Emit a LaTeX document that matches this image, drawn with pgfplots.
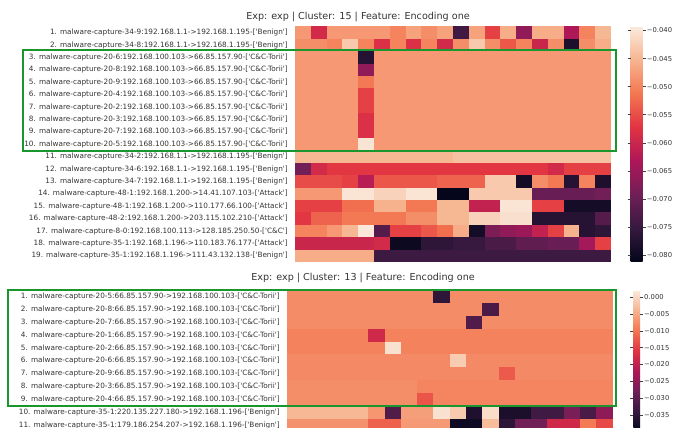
\documentclass[border=0pt]{standalone}
\usepackage{pgfplots}
\pgfplotsset{compat=1.18}
\usepackage{pgfplotstable}
\usepackage{fontspec}
\setmainfont{DejaVu Sans}
\newcommand\lb[1]{[\textquotesingle#1\textquotesingle]}
\definecolor{boxgreen}{RGB}{25,150,45}
\pgfplotsset{colormap={rocket}{rgb255=(3,5,26) rgb255=(53,25,62) rgb255=(112,31,87) rgb255=(173,23,89) rgb255=(225,51,66) rgb255=(243,118,81) rgb255=(246,180,143) rgb255=(250,235,221)}}
\pgfdeclareplotmark{celltop}{\pgfpathrectangle{\pgfpoint{-7.94pt}{-6.235pt}}{\pgfpoint{15.88pt}{12.47pt}}\pgfusepathqfill}
\pgfdeclareplotmark{cellbot}{\pgfpathrectangle{\pgfpoint{-8.175pt}{-6.49pt}}{\pgfpoint{16.35pt}{12.98pt}}\pgfusepathqfill}
\pgfplotsset{
 heat/.style={scale only axis, colormap name=rocket, xtick=\empty,
  axis line style={draw=none}, y dir=reverse, xmin=-0.5, xmax=19.5,
  ytick style={draw=none}, major tick length=0pt,
  yticklabel style={font=\fontsize{7.3}{8}\selectfont, text=black!80, inner sep=0pt, xshift=-7pt},
  title style={font=\fontsize{9.6}{11}\selectfont, text=black!80, at={(0.5,1)}, anchor=base},
  colorbar, clip=false},
 cbar/.style={at={(parent axis.north east)}, anchor=north west, axis line style={draw=none},
  scaled y ticks=false,
  major tick length=3pt, tick align=outside, ytick style={draw=black!75, line width=0.5pt},
  yticklabel style={font=\fontsize{6.8}{8}\selectfont, text=black!80, inner sep=1pt, xshift=0pt}},
 cell/.style={scatter, only marks, point meta=explicit, scatter/use mapped color={fill=mapped color, draw=none}}
}
\pgfplotstableread{
c0 c1 c2 c3 c4 c5 c6 c7 c8 c9 c10 c11 c12 c13 c14 c15 c16 c17 c18 c19
-0.048 -0.059 -0.048 -0.048 -0.048 -0.048 -0.050 -0.047 -0.049 -0.047 -0.074 -0.047 -0.056 -0.046 -0.066 -0.046 -0.046 -0.063 -0.050 -0.045
-0.049 -0.049 -0.050 -0.043 -0.050 -0.058 -0.050 -0.058 -0.050 -0.059 -0.049 -0.043 -0.049 -0.054 -0.050 -0.060 -0.049 -0.078 -0.049 -0.046
-0.048 -0.048 -0.048 -0.048 -0.077 -0.048 -0.048 -0.048 -0.048 -0.048 -0.048 -0.048 -0.048 -0.048 -0.048 -0.048 -0.048 -0.048 -0.048 -0.048
-0.048 -0.048 -0.048 -0.048 -0.066 -0.048 -0.048 -0.048 -0.048 -0.048 -0.048 -0.048 -0.048 -0.048 -0.048 -0.048 -0.048 -0.048 -0.048 -0.048
-0.048 -0.048 -0.048 -0.048 -0.051 -0.048 -0.048 -0.048 -0.048 -0.048 -0.048 -0.048 -0.048 -0.048 -0.048 -0.048 -0.048 -0.048 -0.048 -0.048
-0.048 -0.048 -0.048 -0.048 -0.056 -0.048 -0.048 -0.048 -0.048 -0.048 -0.048 -0.048 -0.048 -0.048 -0.048 -0.048 -0.048 -0.048 -0.048 -0.048
-0.048 -0.048 -0.048 -0.048 -0.056 -0.048 -0.048 -0.048 -0.048 -0.048 -0.048 -0.048 -0.048 -0.048 -0.048 -0.048 -0.048 -0.048 -0.048 -0.048
-0.048 -0.048 -0.048 -0.048 -0.058 -0.048 -0.048 -0.048 -0.048 -0.048 -0.048 -0.048 -0.048 -0.048 -0.048 -0.048 -0.048 -0.048 -0.048 -0.048
-0.048 -0.048 -0.048 -0.048 -0.058 -0.048 -0.048 -0.048 -0.048 -0.048 -0.048 -0.048 -0.048 -0.048 -0.048 -0.048 -0.048 -0.048 -0.048 -0.048
-0.048 -0.048 -0.048 -0.048 -0.040 -0.048 -0.048 -0.048 -0.048 -0.048 -0.048 -0.048 -0.048 -0.048 -0.048 -0.048 -0.048 -0.048 -0.048 -0.048
-0.045 -0.045 -0.045 -0.045 -0.045 -0.045 -0.045 -0.045 -0.045 -0.045 -0.044 -0.044 -0.044 -0.044 -0.044 -0.044 -0.044 -0.044 -0.044 -0.044
-0.069 -0.059 -0.057 -0.057 -0.057 -0.057 -0.057 -0.057 -0.057 -0.057 -0.057 -0.057 -0.057 -0.057 -0.057 -0.057 -0.059 -0.056 -0.056 -0.056
-0.055 -0.055 -0.055 -0.056 -0.062 -0.054 -0.054 -0.054 -0.054 -0.053 -0.053 -0.053 -0.043 -0.043 -0.079 -0.049 -0.051 -0.077 -0.050 -0.078
-0.048 -0.048 -0.048 -0.040 -0.040 -0.042 -0.042 -0.040 -0.040 -0.081 -0.081 -0.043 -0.043 -0.043 -0.043 -0.070 -0.070 -0.070 -0.070 -0.069
-0.056 -0.056 -0.056 -0.052 -0.052 -0.0455 -0.0455 -0.051 -0.051 -0.045 -0.045 -0.061 -0.061 -0.040 -0.040 -0.056 -0.056 -0.079 -0.079 -0.079
-0.057 -0.053 -0.053 -0.051 -0.051 -0.051 -0.051 -0.049 -0.049 -0.045 -0.045 -0.042 -0.042 -0.0405 -0.0405 -0.077 -0.077 -0.077 -0.077 -0.072
-0.050 -0.050 -0.048 -0.045 -0.0395 -0.072 -0.056 -0.056 -0.054 -0.052 -0.046 -0.079 -0.068 -0.066 -0.065 -0.061 -0.056 -0.0455 -0.077 -0.076
-0.060 -0.060 -0.060 -0.060 -0.060 -0.059 -0.080 -0.080 -0.076 -0.076 -0.075 -0.075 -0.073 -0.073 -0.071 -0.071 -0.070 -0.070 -0.064 -0.056
-0.046 -0.046 -0.046 -0.046 -0.046 -0.0745 -0.0745 -0.0745 -0.0745 -0.0745 -0.0745 -0.0745 -0.0745 -0.0745 -0.0745 -0.0745 -0.0745 -0.0745 -0.0745 -0.0745
}\topdata
\pgfplotstableread{
c0 c1 c2 c3 c4 c5 c6 c7 c8 c9 c10 c11 c12 c13 c14 c15 c16 c17 c18 c19
-0.0078 -0.0078 -0.0078 -0.0078 -0.0078 -0.0078 -0.0078 -0.0078 -0.0078 -0.035 -0.0078 -0.0078 -0.0078 -0.0078 -0.0078 -0.0078 -0.0078 -0.0078 -0.0078 -0.0078
-0.0078 -0.0078 -0.0078 -0.0078 -0.0078 -0.0078 -0.0078 -0.0078 -0.0078 -0.0078 -0.0078 -0.0078 -0.032 -0.0078 -0.0078 -0.0078 -0.0078 -0.0078 -0.0078 -0.0078
-0.0078 -0.0078 -0.0078 -0.0078 -0.0078 -0.0078 -0.0078 -0.0078 -0.0078 -0.0078 -0.0078 -0.031 -0.0078 -0.0078 -0.0078 -0.0078 -0.0078 -0.0078 -0.0078 -0.0078
-0.0088 -0.0088 -0.0088 -0.0088 -0.0088 -0.018 -0.0088 -0.0088 -0.0088 -0.0088 -0.0088 -0.0088 -0.0088 -0.0088 -0.0088 -0.0088 -0.0088 -0.0088 -0.0088 -0.0088
-0.0088 -0.0088 -0.0088 -0.0088 -0.0088 -0.0088 0.001 -0.0088 -0.0088 -0.0088 -0.0088 -0.0088 -0.0088 -0.0088 -0.0088 -0.0088 -0.0088 -0.0088 -0.0088 -0.0088
-0.0080 -0.0080 -0.0080 -0.0080 -0.0080 -0.0080 -0.0080 -0.0080 -0.0080 -0.0080 -0.0013 -0.0080 -0.0080 -0.0080 -0.0080 -0.0080 -0.0080 -0.0080 -0.0080 -0.0080
-0.0080 -0.0080 -0.0080 -0.0080 -0.0080 -0.0080 -0.0080 -0.0080 -0.0080 -0.0080 -0.0080 -0.0080 -0.0080 -0.0125 -0.0080 -0.0080 -0.0080 -0.0080 -0.0080 -0.0080
-0.0076 -0.0076 -0.0076 -0.0076 -0.0076 -0.0076 -0.0076 -0.0076 -0.0085 -0.0085 -0.0085 -0.0085 -0.0085 -0.0085 -0.0085 -0.0085 -0.0085 -0.0085 -0.0085 -0.0085
-0.0076 -0.0076 -0.0076 -0.0076 -0.0076 -0.0076 -0.0076 -0.0076 -0.013 -0.0085 -0.0085 -0.0085 -0.0085 -0.0085 -0.0085 -0.0085 -0.0085 -0.0085 -0.0085 -0.0085
-0.0035 -0.0035 -0.0035 -0.0035 -0.0035 -0.0068 -0.031 -0.006 -0.006 0.001 -0.0015 -0.0367 0.0005 -0.037 -0.037 -0.033 -0.033 -0.027 -0.032 -0.025
-0.0073 -0.0073 -0.0073 -0.0073 -0.0073 -0.0117 -0.0117 -0.0065 -0.0065 -0.0065 -0.0385 -0.0385 -0.003 -0.035 -0.028 -0.028 -0.018 -0.018 -0.0095 -0.014
}\botdata
\begin{document}
\begin{tikzpicture}
\begin{axis}[heat, at={(295pt,-26.5pt)}, anchor=north west, width=316pt, height=235.5pt,
 ymin=-0.5, ymax=18.5, ytick={0,...,18},
 yticklabels={
 {1. malware-capture-34-9:192.168.1.1->192.168.1.195-\lb{Benign}},
 {2. malware-capture-34-8:192.168.1.1->192.168.1.195-\lb{Benign}},
 {3. malware-capture-20-6:192.168.100.103->66.85.157.90-\lb{C\&C-Torii}},
 {4. malware-capture-20-8:192.168.100.103->66.85.157.90-\lb{C\&C-Torii}},
 {5. malware-capture-20-9:192.168.100.103->66.85.157.90-\lb{C\&C-Torii}},
 {6. malware-capture-20-4:192.168.100.103->66.85.157.90-\lb{C\&C-Torii}},
 {7. malware-capture-20-2:192.168.100.103->66.85.157.90-\lb{C\&C-Torii}},
 {8. malware-capture-20-3:192.168.100.103->66.85.157.90-\lb{C\&C-Torii}},
 {9. malware-capture-20-7:192.168.100.103->66.85.157.90-\lb{C\&C-Torii}},
 {10. malware-capture-20-5:192.168.100.103->66.85.157.90-\lb{C\&C-Torii}},
 {11. malware-capture-34-2:192.168.1.1->192.168.1.195-\lb{Benign}},
 {12. malware-capture-34-6:192.168.1.1->192.168.1.195-\lb{Benign}},
 {13. malware-capture-34-7:192.168.1.1->192.168.1.195-\lb{Benign}},
 {14. malware-capture-48-1:192.168.1.200->14.41.107.103-\lb{Attack}},
 {15. malware-capture-48-1:192.168.1.200->110.177.66.100-\lb{Attack}},
 {16. malware-capture-48-2:192.168.1.200->203.115.102.210-\lb{Attack}},
 {17. malware-capture-8-0:192.168.100.113->128.185.250.50-\lb{C\&C}},
 {18. malware-capture-35-1:192.168.1.196->110.183.76.177-\lb{Attack}},
 {19. malware-capture-35-1:192.168.1.196->111.43.132.138-\lb{Benign}}},
 point meta min=-0.0812, point meta max=-0.0393,
 title={Exp: exp | Cluster: 15 | Feature: Encoding one},
 title style={xshift=-95pt, yshift=1.5pt},
 colorbar style={cbar, xshift=11.2pt, width=12pt,
  ytick={-0.08,-0.075,-0.07,-0.065,-0.06,-0.055,-0.05,-0.045,-0.04},
  yticklabels={−0.080,−0.075,−0.070,−0.065,−0.060,−0.055,−0.050,−0.045,−0.040}}]
\pgfplotsinvokeforeach{0,...,19}{
 \addplot[cell, mark=celltop] table[x expr=#1, y expr=\coordindex, meta=c#1] {\topdata};
}
\end{axis}
\begin{axis}[heat, at={(287pt,-290pt)}, anchor=north west, width=325.5pt, height=141.9pt,
 ymin=-0.5, ymax=10.5, ytick={0,...,10},
 yticklabels={
 {1. malware-capture-20-5:66.85.157.90->192.168.100.103-\lb{C\&C-Torii}},
 {2. malware-capture-20-8:66.85.157.90->192.168.100.103-\lb{C\&C-Torii}},
 {3. malware-capture-20-7:66.85.157.90->192.168.100.103-\lb{C\&C-Torii}},
 {4. malware-capture-20-1:66.85.157.90->192.168.100.103-\lb{C\&C-Torii}},
 {5. malware-capture-20-2:66.85.157.90->192.168.100.103-\lb{C\&C-Torii}},
 {6. malware-capture-20-6:66.85.157.90->192.168.100.103-\lb{C\&C-Torii}},
 {7. malware-capture-20-9:66.85.157.90->192.168.100.103-\lb{C\&C-Torii}},
 {8. malware-capture-20-3:66.85.157.90->192.168.100.103-\lb{C\&C-Torii}},
 {9. malware-capture-20-4:66.85.157.90->192.168.100.103-\lb{C\&C-Torii}},
 {10. malware-capture-35-1:220.135.227.180->192.168.1.196-\lb{Benign}},
 {11. malware-capture-35-1:179.186.254.207->192.168.1.196-\lb{Benign}}},
 point meta min=-0.040, point meta max=0.0021,
 title={Exp: exp | Cluster: 13 | Feature: Encoding one},
 title style={xshift=-86.75pt, yshift=3.2pt},
 colorbar style={cbar, xshift=12.3pt, width=6.7pt,
  ytick={-0.035,-0.03,-0.025,-0.02,-0.015,-0.01,-0.005,0},
  yticklabels={−0.035,−0.030,−0.025,−0.020,−0.015,−0.010,−0.005,0.000}}]
\pgfplotsinvokeforeach{0,...,19}{
 \addplot[cell, mark=cellbot] table[x expr=#1, y expr=\coordindex, meta=c#1] {\botdata};
}
\end{axis}
\draw[boxgreen, line width=2pt] (22.5pt,-50.5pt) rectangle (616pt,-151pt);
\draw[boxgreen, line width=2pt] (8.3pt,-289.5pt) rectangle (616pt,-406pt);
\pgfresetboundingbox
\path[use as bounding box] (0pt,0pt) rectangle (678pt,-428pt);
\end{tikzpicture}
\end{document}
